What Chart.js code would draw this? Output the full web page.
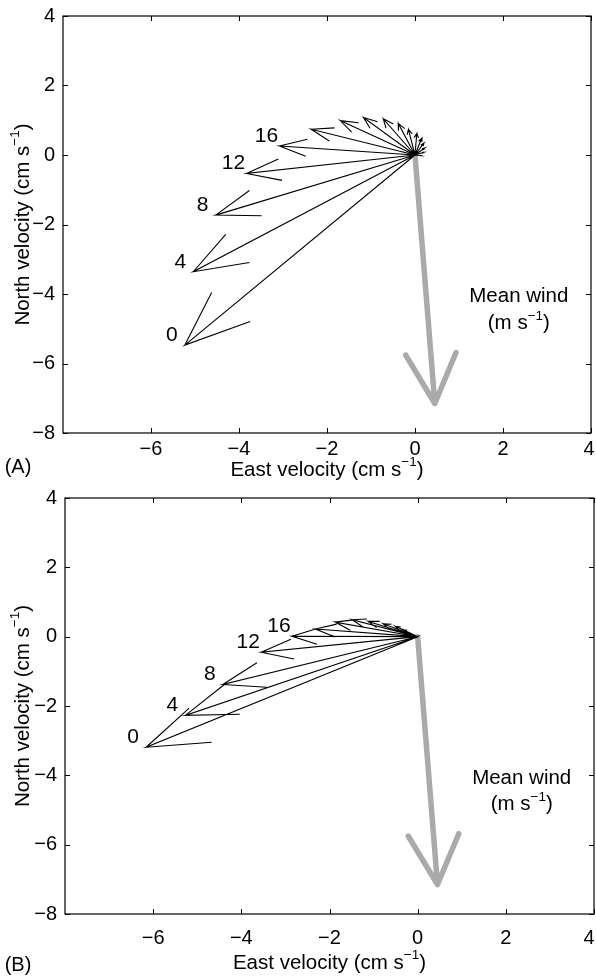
<!DOCTYPE html>
<html>
<head>
<meta charset="utf-8">
<script src="https://cdn.jsdelivr.net/npm/chart.js@4.4.1/dist/chart.umd.min.js"></script>
<style>
  body { margin: 0; background: #fff; overflow: hidden; }
  canvas { display: block; }
</style>
</head>
<body>
<canvas id="panelA" width="596" height="489"></canvas>
<canvas id="panelB" width="596" height="489"></canvas>
<script>
// current vectors every 4 m of depth (cm/s)
const depthsA = [0, 4, 8, 12, 16, 20, 24, 28, 32, 36, 40, 44, 48, 52, 56, 60, 64];
const eastA  = [-5.23, -5.04, -4.53, -3.83, -3.08, -2.36, -1.70, -1.17, -0.72, -0.38, -0.15, 0.04, 0.15, 0.20, 0.22, 0.20, 0.15];
const northA = [-5.47, -3.36, -1.73, -0.53, 0.26, 0.74, 0.99, 1.08, 1.04, 0.91, 0.74, 0.62, 0.48, 0.34, 0.20, 0.08, -0.02];

const depthsB = [0, 4, 8, 12, 16, 20, 24, 28, 32, 36, 40, 44, 48, 52, 56];
const eastB  = [-6.16, -5.27, -4.42, -3.55, -2.85, -2.32, -1.87, -1.49, -1.12, -0.78, -0.51, -0.32, -0.17, -0.07, 0.01];
const northB = [-3.19, -2.27, -1.38, -0.45, 0.01, 0.22, 0.42, 0.49, 0.44, 0.37, 0.30, 0.20, 0.10, 0.04, 0.01];

// mean wind vector (east, north), drawn on the same axes
const meanWind = [0.45, -7.15];

const labelledDepths = [0, 4, 8, 12, 16];
const xTicks = [-6, -4, -2, 0, 2, 4];
const yTicks = [4, 2, 0, -2, -4, -6, -8];

const FONT = '"Liberation Sans", Arial, Helvetica, sans-serif';
const GAP = { x: null, y: null };

// quiver style arrow: shaft from origin, two barbs back from the tip
function addArrow(pts, u, v) {
    const a = 0.2, b = 0.4;
    pts.push({ x: 0, y: 0 }, { x: u, y: v }, { x: u - a * (u + b * v), y: v - a * (v - b * u) }, GAP);
    pts.push({ x: u, y: v }, { x: u - a * (u - b * v), y: v - a * (v + b * u) }, GAP);
}

function fmt(n) {
    return n < 0 ? '\u2212' + Math.abs(n) : String(n);
}

function drawRich(ctx, parts, x, y, size, align) {
    let total = 0;
    parts.forEach(p => {
        ctx.font = (p[1] ? size * 0.66 : size) + 'px ' + FONT;
        total += ctx.measureText(p[0]).width;
    });
    let cx = align === 'center' ? x - total / 2 : (align === 'right' ? x - total : x);
    ctx.textAlign = 'left';
    ctx.textBaseline = 'middle';
    parts.forEach(p => {
        ctx.font = (p[1] ? size * 0.66 : size) + 'px ' + FONT;
        ctx.fillText(p[0], cx, p[1] ? y - size * 0.36 : y);
        cx += ctx.measureText(p[0]).width;
    });
}

const decor = {
    id: 'decor',
    afterDraw(chart, args, o) {
        const { ctx, chartArea: a, scales: { x, y } } = chart;
        ctx.save();
        ctx.strokeStyle = '#000';
        ctx.fillStyle = '#000';
        ctx.lineWidth = 1.2;
        ctx.strokeRect(a.left, a.top, a.right - a.left, a.bottom - a.top);

        // inward tick marks on all four sides
        ctx.lineWidth = 1;
        ctx.beginPath();
        xTicks.forEach(t => {
            const px = Math.round(x.getPixelForValue(t)) + 0.5;
            ctx.moveTo(px, a.bottom); ctx.lineTo(px, a.bottom - 5);
            ctx.moveTo(px, a.top); ctx.lineTo(px, a.top + 5);
        });
        yTicks.forEach(t => {
            const py = Math.round(y.getPixelForValue(t)) + 0.5;
            ctx.moveTo(a.left, py); ctx.lineTo(a.left + 5, py);
            ctx.moveTo(a.right, py); ctx.lineTo(a.right - 5, py);
        });
        ctx.stroke();

        // tick labels
        ctx.font = '20px ' + FONT;
        ctx.textBaseline = 'middle';
        ctx.textAlign = 'center';
        xTicks.forEach(t => {
            const px = Math.min(x.getPixelForValue(t), 589);
            ctx.fillText(fmt(t), px, a.bottom + o.tickGap);
        });
        ctx.textAlign = 'right';
        yTicks.forEach(t => ctx.fillText(fmt(t), a.left - 8, y.getPixelForValue(t)));

        // axis titles
        drawRich(ctx, [['East velocity (cm s', false], ['\u22121', true], [')', false]],
            (a.left + a.right) / 2, a.bottom + o.titleGap, 20.5, 'center');
        ctx.save();
        ctx.translate(23, (a.top + a.bottom) / 2);
        ctx.rotate(-Math.PI / 2);
        drawRich(ctx, [['North velocity (cm s', false], ['\u22121', true], [')', false]], 0, 0, 20.5, 'center');
        ctx.restore();

        // panel letter
        ctx.font = '20px ' + FONT;
        ctx.textAlign = 'center';
        ctx.fillText(o.letter, 18, a.bottom + o.letterGap);

        // depth labels next to the arrow tips
        ctx.font = '21px ' + FONT;
        labelledDepths.forEach(d => {
            const i = o.depths.indexOf(d);
            const px = x.getPixelForValue(o.east[i]) - 13;
            const py = y.getPixelForValue(o.north[i]) - 10;
            ctx.fillText(String(d), px, py);
        });

        // wind caption
        const wx = x.getPixelForValue(2.36);
        drawRich(ctx, [['Mean wind', false]], wx, y.getPixelForValue(-4.08), 20.5, 'center');
        drawRich(ctx, [['(m s', false], ['\u22121', true], [')', false]], wx, y.getPixelForValue(-4.84), 20.5, 'center');
        ctx.restore();
    }
};

function makePanel(id, depths, east, north, opt) {
    const vecPts = [];
    east.forEach((u, i) => addArrow(vecPts, u, north[i]));
    const windPts = [];
    addArrow(windPts, meanWind[0], meanWind[1]);

    new Chart(document.getElementById(id), {
        type: 'scatter',
        data: {
            datasets: [
                {
                    data: vecPts, showLine: true, spanGaps: false,
                    borderColor: '#000', borderWidth: 1.1, pointRadius: 0
                },
                {
                    data: windPts, showLine: true, spanGaps: false,
                    borderColor: '#aaaaaa', borderWidth: 5.5, pointRadius: 0,
                    borderCapStyle: 'round', borderJoinStyle: 'round'
                }
            ]
        },
        options: {
            responsive: false,
            animation: false,
            layout: { padding: opt.pad },
            plugins: {
                legend: { display: false },
                tooltip: { enabled: false },
                decor: { depths: depths, east: east, north: north, letter: opt.letter,
                         tickGap: opt.tickGap, titleGap: opt.titleGap, letterGap: opt.letterGap }
            },
            scales: {
                x: {
                    type: 'linear', min: -8, max: 4,
                    ticks: { display: false }, grid: { display: false }, border: { display: false },
                    afterFit: s => { s.height = 0; }
                },
                y: {
                    type: 'linear', min: -8, max: 4,
                    ticks: { display: false }, grid: { display: false }, border: { display: false },
                    afterFit: s => { s.width = 0; }
                }
            }
        },
        plugins: [decor]
    });
}

makePanel('panelA', depthsA, eastA, northA, {
    pad: { left: 63, top: 16, right: 5, bottom: 56 },
    letter: '(A)', tickGap: 16, titleGap: 37, letterGap: 34
});
makePanel('panelB', depthsB, eastB, northB, {
    pad: { left: 65, top: 9, right: 2, bottom: 64 },
    letter: '(B)', tickGap: 24, titleGap: 49, letterGap: 51
});
</script>
</body>
</html>
